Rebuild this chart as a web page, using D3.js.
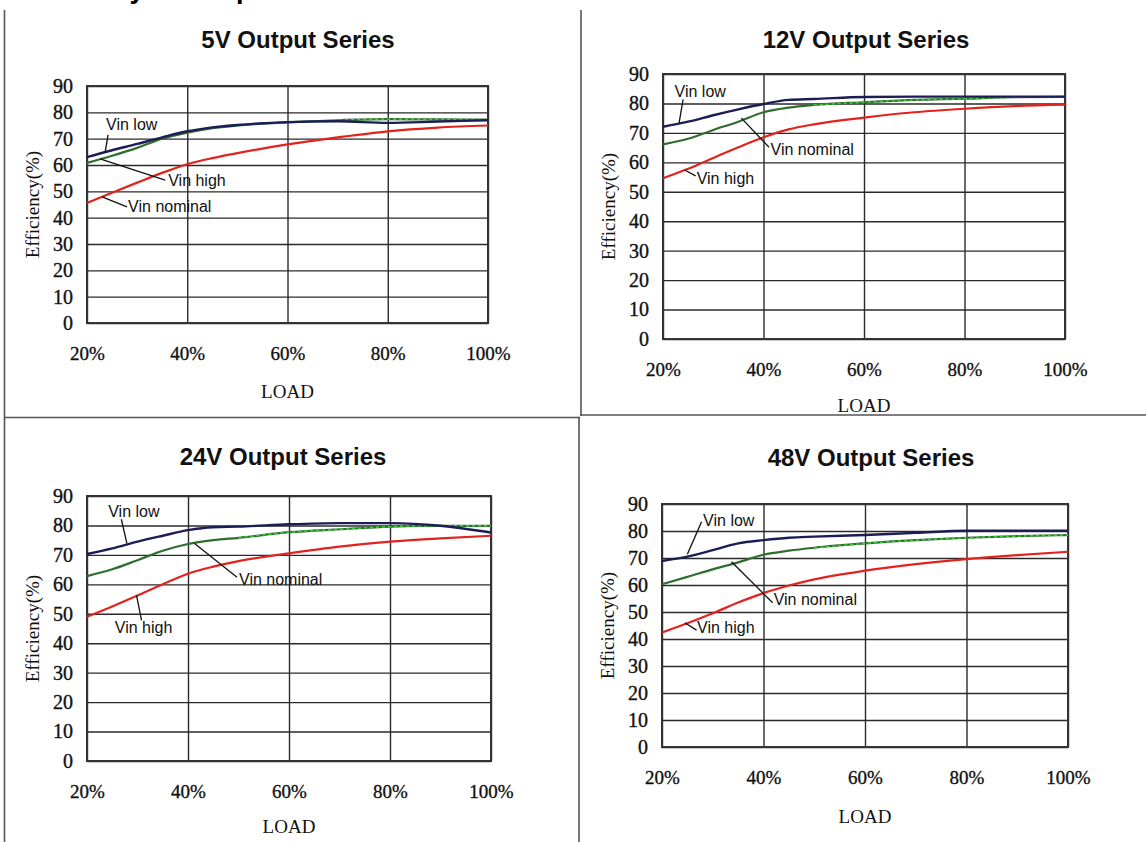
<!DOCTYPE html>
<html>
<head>
<meta charset="utf-8">
<script src="https://cdn.jsdelivr.net/npm/d3@7"></script>
<style>
  html, body { margin: 0; padding: 0; background: #fff; }
  svg { display: block; }
</style>
</head>
<body>
<svg id="chart" width="1146" height="842"></svg>
<script>
// ---------------- DATA ----------------
const loads = [20, 25, 30, 35, 40, 45, 50, 60, 70, 80, 90, 100];
const xTickValues = [20, 40, 60, 80, 100];
const xTickLabels = ["20%", "40%", "60%", "80%", "100%"];
const yTickValues = [0, 10, 20, 30, 40, 50, 60, 70, 80, 90];
const seriesNames = ["Vin low", "Vin nominal", "Vin high"];
const panelTitles = ["5V Output Series", "12V Output Series", "24V Output Series", "48V Output Series"];

const v5Low      = [63.0, 65.6, 68.0, 70.5, 72.8, 74.3, 75.2, 76.3, 76.6, 76.0, 76.5, 77.0];
const v5Nominal  = [60.8, 63.5, 66.5, 70.0, 72.3, 74.0, 75.0, 76.2, 77.0, 77.4, 77.3, 77.2];
const v5High     = [45.6, 49.5, 53.3, 57.0, 60.3, 62.6, 64.5, 67.8, 70.5, 72.8, 74.2, 75.0];

const v12Low     = [72.1, 73.8, 76.0, 78.0, 79.8, 81.2, 81.5, 82.2, 82.3, 82.3, 82.3, 82.3];
const v12Nominal = [66.1, 68.0, 71.0, 73.8, 77.0, 78.6, 79.5, 80.4, 81.2, 81.6, 82.1, 82.2];
const v12High    = [54.6, 57.8, 61.5, 65.1, 68.5, 71.2, 72.9, 75.2, 77.0, 78.2, 79.1, 79.6];

const v24Low     = [70.3, 72.2, 74.5, 76.5, 78.4, 79.4, 79.6, 80.4, 80.8, 80.8, 79.9, 77.6];
const v24Nominal = [62.8, 65.1, 68.2, 71.4, 73.7, 75.0, 75.8, 77.7, 78.7, 79.6, 79.9, 79.9];
const v24High    = [49.0, 52.5, 56.2, 60.0, 63.6, 66.0, 67.9, 70.5, 72.8, 74.5, 75.6, 76.5];

const v48Low     = [68.9, 70.5, 72.9, 75.4, 76.6, 77.5, 77.9, 78.5, 79.3, 80.1, 80.1, 80.1];
const v48Nominal = [60.3, 63.0, 65.8, 68.4, 71.2, 72.7, 73.8, 75.4, 76.6, 77.5, 78.1, 78.5];
const v48High    = [42.4, 45.8, 49.5, 53.5, 57.0, 59.8, 62.1, 65.3, 67.7, 69.6, 71.1, 72.3];

const panelSeries = [
  [v5Low, v5Nominal, v5High],
  [v12Low, v12Nominal, v12High],
  [v24Low, v24Nominal, v24High],
  [v48Low, v48Nominal, v48High]
];

// annotation labels in data units: [text, textLoad, textEff, lineLoad1, lineEff1, lineLoad2, lineEff2]
const notes5  = [["Vin low", 23.8, 73.3, 24.2, 71.4, 23.6, 64.6],
                 ["Vin high", 36.2, 52.0, 22.6, 62.3, 35.6, 54.3],
                 ["Vin nominal", 28.2, 42.2, 23.0, 47.9, 28.0, 44.1]];
const notes12 = [["Vin low", 22.3, 82.1, 24.0, 81.4, 23.2, 73.3],
                 ["Vin nominal", 41.4, 62.5, 35.6, 75.0, 41.1, 65.1],
                 ["Vin high", 26.7, 52.7, 24.3, 57.4, 26.5, 55.4]];
const notes24 = [["Vin low", 24.2, 83.0, 26.8, 82.1, 27.9, 73.9],
                 ["Vin nominal", 50.1, 59.7, 41.3, 73.9, 49.7, 62.4],
                 ["Vin high", 25.5, 43.5, 29.8, 56.3, 30.8, 47.8]];
const notes48 = [["Vin low", 28.1, 81.9, 27.8, 83.4, 25.0, 71.4],
                 ["Vin nominal", 42.0, 52.6, 33.7, 68.6, 41.8, 53.4],
                 ["Vin high", 26.9, 42.3, 24.5, 46.0, 26.8, 43.3]];
const panelNotes = [notes5, notes12, notes24, notes48];

// ---------------- LAYOUT ----------------
const boxes = [
  { left: 87,  right: 488,  top: 86,  bottom: 323, titleX: 298, titleY: 48,  loadY: 398 },
  { left: 663, right: 1065, top: 74,  bottom: 339, titleX: 866, titleY: 48,  loadY: 412 },
  { left: 87,  right: 491,  top: 496, bottom: 761, titleX: 283, titleY: 465, loadY: 833 },
  { left: 662, right: 1068, top: 504, bottom: 747, titleX: 871, titleY: 466, loadY: 823 }
];
const colors = ["#1d1d55", "#2f6e2f", "#e4221d"];
const serif = "Liberation Serif, Times New Roman, serif";
const sans = "Liberation Sans, Arial, sans-serif";

const svg = d3.select("#chart");

// page frame lines
const frame = svg.append("g").attr("stroke", "#555").attr("stroke-width", 1.6);
frame.append("line").attr("x1", 4.5).attr("y1", 10).attr("x2", 4.5).attr("y2", 842);
frame.append("line").attr("x1", 581).attr("y1", 10).attr("x2", 581).attr("y2", 416);
frame.append("line").attr("x1", 4).attr("y1", 417.5).attr("x2", 580).attr("y2", 417.5);
frame.append("line").attr("x1", 580).attr("y1", 415).attr("x2", 1146).attr("y2", 415);
frame.append("line").attr("x1", 579).attr("y1", 417).attr("x2", 579).attr("y2", 842);

// heading at top of page (cut off by the top edge, as in the reference)
svg.append("text").attr("x", 17).attr("y", -2.5)
  .attr("font-family", sans)
  .attr("font-weight", "bold").attr("font-size", 27)
  .attr("fill", "#000").text("Efficiency vs Output Load");

boxes.forEach((b, pi) => {
  const x = d3.scaleLinear().domain([20, 100]).range([b.left, b.right]);
  const y = d3.scaleLinear().domain([0, 90]).range([b.bottom, b.top]);
  const g = svg.append("g");

  // title
  g.append("text").attr("x", b.titleX).attr("y", b.titleY)
    .attr("text-anchor", "middle")
    .attr("font-family", sans)
    .attr("font-weight", "bold").attr("font-size", 24)
    .attr("fill", "#111").text(panelTitles[pi]);

  // horizontal grid via axis
  const yGrid = g.append("g").attr("transform", `translate(${b.left},0)`)
    .call(d3.axisLeft(y).tickValues(yTickValues).tickSize(-(b.right - b.left)).tickFormat(""));
  yGrid.select(".domain").remove();
  yGrid.selectAll(".tick line").attr("stroke", "#2a2a2a").attr("stroke-width", 1.4);

  // vertical grid via axis
  const xGrid = g.append("g").attr("transform", `translate(0,${b.bottom})`)
    .call(d3.axisBottom(x).tickValues(xTickValues).tickSize(-(b.bottom - b.top)).tickFormat(""));
  xGrid.select(".domain").remove();
  xGrid.selectAll(".tick line").attr("stroke", "#2a2a2a").attr("stroke-width", 1.4);

  // plot frame
  g.append("rect").attr("x", b.left).attr("y", b.top)
    .attr("width", b.right - b.left).attr("height", b.bottom - b.top)
    .attr("fill", "none").attr("stroke", "#333").attr("stroke-width", 2);

  // y tick labels
  const yAx = g.append("g").attr("transform", `translate(${b.left},0)`)
    .call(d3.axisLeft(y).tickValues(yTickValues).tickSize(0).tickPadding(14).tickFormat(d3.format("d")));
  yAx.select(".domain").remove();
  yAx.selectAll("text").attr("font-family", serif)
    .attr("font-size", 20).attr("fill", "#111")
    .attr("stroke", "#111").attr("stroke-width", 0.35);

  // x tick labels
  const xAx = g.append("g").attr("transform", `translate(0,${b.bottom})`)
    .call(d3.axisBottom(x).tickValues(xTickValues).tickSize(0).tickPadding(24)
      .tickFormat((d, i) => xTickLabels[i]));
  xAx.select(".domain").remove();
  xAx.selectAll("text").attr("font-family", serif)
    .attr("font-size", 19).attr("fill", "#111")
    .attr("stroke", "#111").attr("stroke-width", 0.35);

  // axis titles
  g.append("text").attr("x", (b.left + b.right) / 2).attr("y", b.loadY)
    .attr("text-anchor", "middle")
    .attr("font-family", serif)
    .attr("font-size", 19).attr("fill", "#111").text("LOAD");
  const cy = (b.top + b.bottom) / 2;
  g.append("text").attr("transform", `translate(${b.left - 48},${cy}) rotate(-90)`)
    .attr("text-anchor", "middle")
    .attr("font-family", serif)
    .attr("font-size", 19).attr("fill", "#111").text("Efficiency(%)");

  // lines
  const line = d3.line().x(d => x(d[0])).y(d => y(d[1])).curve(d3.curveMonotoneX);
  const ser = panelSeries[pi];
  // draw order: high (red), nominal (green), low (navy)
  [2, 1, 0].forEach(si => {
    const pts = loads.map((l, i) => [l, ser[si][i]]);
    g.append("path").attr("d", line(pts)).attr("fill", "none")
      .attr("stroke", colors[si]).attr("stroke-width", si === 0 ? 2.4 : 2.2)
      .attr("stroke-linejoin", "round");
    if (si === 1) {
      // lighter dashed overlay on the right part of the nominal curve
      const right = pts.filter(p => p[0] >= 50);
      g.append("path").attr("d", line(right)).attr("fill", "none")
        .attr("stroke", "#3fd23f").attr("stroke-width", 1.4)
        .attr("stroke-dasharray", "3,3");
    }
  });

  // annotations
  panelNotes[pi].forEach(n => {
    g.append("line").attr("x1", x(n[3])).attr("y1", y(n[4]))
      .attr("x2", x(n[5])).attr("y2", y(n[6]))
      .attr("stroke", "#111").attr("stroke-width", 1.3);
    g.append("text").attr("x", x(n[1])).attr("y", y(n[2]))
      .attr("font-family", sans)
      .attr("font-size", 16).attr("fill", "#111").text(n[0]);
  });
});
</script>
</body>
</html>
